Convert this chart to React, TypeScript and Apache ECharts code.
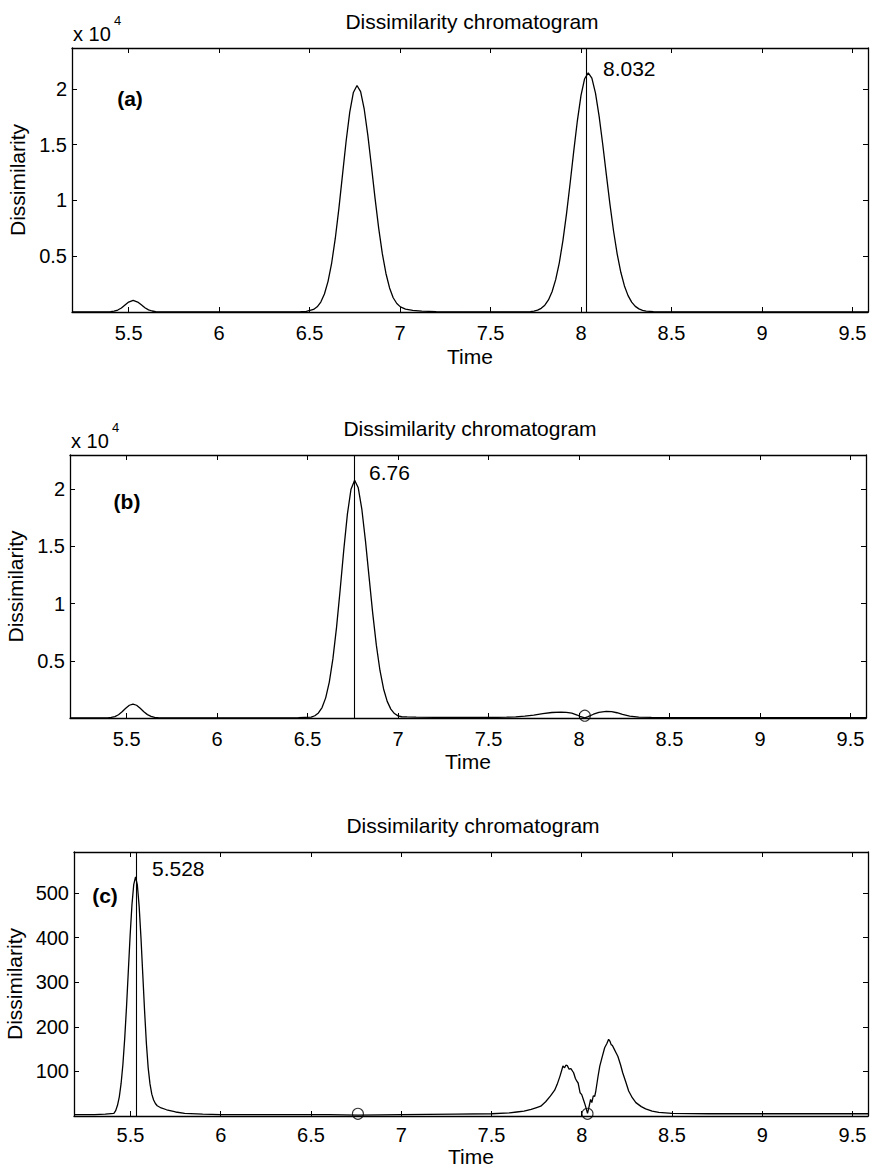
import React, { useEffect, useRef } from "react";
import * as echarts from "echarts";

const FONT = '"Liberation Sans", Arial, Helvetica, sans-serif';

const TIME_MIN = 5.187;
const TIME_MAX = 9.586;
const xTicks = [5.5, 6, 6.5, 7, 7.5, 8, 8.5, 9, 9.5];
const yTicksAB = [5000, 10000, 15000, 20000];
const yTicksC = [100, 200, 300, 400, 500];

// Panel (a)
const timeA = [
  5.19, 5.3, 5.38, 5.4, 5.42, 5.44, 5.46, 5.48, 5.5, 5.525, 5.55, 5.57, 5.59, 5.61, 5.63, 5.65, 5.68, 5.75,
  6.0, 6.3, 6.45, 6.482, 6.522, 6.542, 6.562, 6.582, 6.602, 6.622, 6.642, 6.662, 6.682, 6.702, 6.722, 6.742,
  6.762, 6.782, 6.802, 6.822, 6.842, 6.862, 6.882, 6.902, 6.922, 6.942, 6.962, 6.982, 7.002, 7.03, 7.07,
  7.12, 7.2, 7.35, 7.55, 7.65, 7.7, 7.72, 7.74, 7.76, 7.78, 7.8, 7.82, 7.84, 7.86, 7.88, 7.9, 7.92, 7.94,
  7.96, 7.98, 8.0, 8.02, 8.04, 8.06, 8.08, 8.1, 8.12, 8.14, 8.16, 8.18, 8.2, 8.22, 8.24, 8.26, 8.28, 8.3,
  8.32, 8.34, 8.36, 8.4, 8.5, 8.7, 9.0, 9.3, 9.586,
];
const dissA = [
  5, 5, 8, 25, 70, 175, 360, 630, 890, 1040, 895, 640, 380, 195, 90, 38, 12, 4,
  3, 5, 30, 45, 225, 463, 891, 1616, 2747, 4391, 6591, 9293, 12312, 15322, 17915, 19675,
  20300, 19746, 18172, 15824, 13037, 10162, 7495, 5229, 3453, 2156, 1275, 760, 460, 260, 140,
  70, 35, 15, 10, 15, 17, 39, 83, 169, 330, 613, 1080, 1813, 2900, 4412, 6390, 8810, 11559,
  14437, 17159, 19416, 20907, 21430, 20961, 19613, 17555, 15031, 12316, 9650, 7235, 5188, 3560, 2336, 1468, 881, 506,
  279, 147, 74, 40, 15, 8, 6, 5, 5,
];

// Panel (b)
const timeB = [
  5.19, 5.3, 5.395, 5.415, 5.435, 5.455, 5.475, 5.495, 5.515, 5.535, 5.555, 5.575, 5.595, 5.615, 5.635, 5.655, 5.675, 5.72,
  5.8, 6.0, 6.3, 6.45, 6.52, 6.54, 6.56, 6.58, 6.6, 6.62, 6.64, 6.66, 6.68, 6.7, 6.72, 6.74,
  6.76, 6.78, 6.8, 6.82, 6.84, 6.86, 6.88, 6.9, 6.92, 6.94, 6.96, 6.98, 7.0, 7.02, 7.05, 7.1, 7.2, 7.4, 7.55,
  7.6, 7.65, 7.7, 7.75, 7.8, 7.85, 7.9, 7.93, 7.96, 7.99, 8.01, 8.032, 8.05, 8.08, 8.11, 8.15, 8.18, 8.21, 8.24, 8.28, 8.33,
  8.4, 8.6, 9.0, 9.586,
];
const dissB = [
  5, 5, 15, 47, 127, 287, 540, 850, 1115, 1220, 1115, 850, 540, 295, 140, 60, 25, 8,
  5, 8, 15, 40, 80, 196, 439, 913, 1760, 3141, 5188, 7929, 11220, 14699, 17826, 20014,
  20800, 20128, 18237, 15473, 12293, 9146, 6371, 4156, 2538, 1452, 778, 389, 183, 110, 90, 70, 50, 50, 60,
  70, 100, 160, 260, 380, 480, 520, 500, 420, 260, 110, 20, 120, 330, 500, 580, 560, 460, 320, 170, 80,
  50, 40, 35, 30,
];

// Panel (c)
const timeC = [
  5.19, 5.3, 5.36, 5.408, 5.418, 5.428, 5.438, 5.448, 5.458, 5.468, 5.478, 5.488, 5.498, 5.508, 5.518, 5.528,
  5.538, 5.548, 5.558, 5.568, 5.578, 5.588, 5.598, 5.608, 5.618, 5.628, 5.638, 5.648, 5.67, 5.7, 5.75, 5.8, 5.9,
  6.0, 6.3, 6.6, 6.76, 7.0, 7.3, 7.5, 7.6, 7.64, 7.68, 7.72, 7.75, 7.773, 7.8, 7.827, 7.85, 7.864, 7.88, 7.896,
  7.905, 7.912, 7.92, 7.93, 7.94, 7.955, 7.965, 7.973, 7.98, 7.991, 8.0, 8.01, 8.018, 8.026, 8.032, 8.04, 8.049,
  8.056, 8.064, 8.072, 8.078, 8.09, 8.1, 8.113, 8.127, 8.14, 8.149, 8.156, 8.163, 8.17, 8.18, 8.19, 8.2, 8.215,
  8.227, 8.245, 8.26, 8.28, 8.3, 8.33, 8.354, 8.39, 8.427, 8.5, 8.7, 9.0, 9.3, 9.586,
];
const dissC = [
  3, 3, 4, 6, 12, 24, 43, 73, 116, 174, 245, 325, 405, 473, 519, 536,
  518, 470, 400, 318, 236, 163, 108, 72, 49, 36, 28, 23, 18, 14, 9, 6, 4,
  3, 3, 3, 2, 3, 4, 5, 7, 9, 11, 15, 19, 22, 32, 45, 58, 71, 90, 112,
  108, 114, 113, 105, 106, 97, 84, 78, 74, 52, 48, 36, 26, 15, 6, 20, 37,
  30, 45, 44, 56, 88, 112, 132, 153, 163, 172, 168, 160, 158, 150, 142, 134, 115,
  97, 75, 56, 41, 30, 21, 16, 11, 8, 6, 5, 5, 5, 5,
];

const peakA = 8.032;
const peakB = 6.76;
const peakC = 5.528;
const circlesB = [[8.032, 200]];
const circlesC = [[6.76, 5], [8.032, 5]];

const panelLabels = ["(a)", "(b)", "(c)"];
const peakLabels = ["8.032", "6.76", "5.528"];
const titleText = "Dissimilarity chromatogram";

const grids = [
  { left: 72, top: 48, width: 796, height: 264 },
  { left: 70, top: 455, width: 796, height: 263 },
  { left: 74, top: 852, width: 794, height: 264 },
];
const yMaxes = [23660, 23000, 592];
const timeNameGaps = [34, 33, 26];
const tickMargins = [11, 11, 9];

const BLACK = "#000";
const lineStyle = { color: BLACK, width: 1.3 };

function pairs(t: number[], v: number[]) {
  return t.map((x, i) => [x, v[i]]);
}

export default function App() {
  const ref = useRef<HTMLDivElement>(null);
  useEffect(() => {
    const chart = echarts.init(ref.current!, null, { renderer: "svg" });
    const xAxes: any[] = [];
    const yAxes: any[] = [];
    grids.forEach((g, i) => {
      xAxes.push({
        type: "value",
        gridIndex: i,
        min: TIME_MIN,
        max: TIME_MAX,
        position: "bottom",
        axisLine: { show: true, onZero: false, lineStyle },
        axisTick: { show: true, inside: true, length: 5, customValues: xTicks, lineStyle: { color: BLACK, width: 1 } },
        axisLabel: {
          customValues: xTicks,
          color: BLACK,
          fontSize: 20,
          fontFamily: FONT,
          margin: tickMargins[i],
          formatter: (v: number) => String(v),
        },
        splitLine: { show: false },
        name: "Time",
        nameLocation: "middle",
        nameGap: timeNameGaps[i],
        nameTextStyle: { color: BLACK, fontSize: 21, fontFamily: FONT, lineHeight: 21 },
      });
      xAxes.push({
        type: "value",
        gridIndex: i,
        min: TIME_MIN,
        max: TIME_MAX,
        position: "top",
        axisLine: { show: true, onZero: false, lineStyle },
        axisTick: { show: true, inside: true, length: 5, customValues: xTicks, lineStyle: { color: BLACK, width: 1 } },
        axisLabel: { show: false },
        splitLine: { show: false },
      });
      const yt = i < 2 ? yTicksAB : yTicksC;
      yAxes.push({
        type: "value",
        gridIndex: i,
        min: 0,
        max: yMaxes[i],
        position: "left",
        axisLine: { show: true, onZero: false, lineStyle },
        axisTick: { show: true, inside: true, length: 5, customValues: yt, lineStyle: { color: BLACK, width: 1 } },
        axisLabel: {
          customValues: yt,
          color: BLACK,
          fontSize: 20,
          fontFamily: FONT,
          margin: 5,
          formatter: (v: number) => (i < 2 ? String(v / 10000) : String(v)),
        },
        splitLine: { show: false },
        name: "Dissimilarity",
        nameLocation: "middle",
        nameRotate: 90,
        nameGap: i < 2 ? 37 : 42,
        nameTextStyle: { color: BLACK, fontSize: 21, fontFamily: FONT },
      });
      yAxes.push({
        type: "value",
        gridIndex: i,
        min: 0,
        max: yMaxes[i],
        position: "right",
        axisLine: { show: true, onZero: false, lineStyle },
        axisTick: { show: true, inside: true, length: 5, customValues: yt, lineStyle: { color: BLACK, width: 1 } },
        axisLabel: { show: false },
        splitLine: { show: false },
      });
    });

    const datasets = [pairs(timeA, dissA), pairs(timeB, dissB), pairs(timeC, dissC)];
    const peaks = [peakA, peakB, peakC];
    const series: any[] = datasets.map((d, i) => ({
      type: "line",
      xAxisIndex: i * 2,
      yAxisIndex: i * 2,
      data: d,
      symbol: "none",
      showSymbol: false,
      lineStyle,
      markLine: {
        silent: true,
        symbol: ["none", "none"],
        label: { show: false },
        lineStyle: { color: BLACK, width: 1.1, type: "solid" },
        data: [{ xAxis: peaks[i] }],
      },
    }));
    [[1, circlesB], [2, circlesC]].forEach(([i, pts]: any) => {
      series.push({
        type: "scatter",
        xAxisIndex: i * 2,
        yAxisIndex: i * 2,
        data: pts,
        symbol: "circle",
        symbolSize: 11,
        clip: false,
        itemStyle: { color: "transparent", borderColor: BLACK, borderWidth: 1.1 },
      });
    });

    const graphics: any[] = [];
    const labelPos = [
      [130, 98],
      [127, 501],
      [105, 895],
    ];
    const peakLabelPos = [
      [603, 68],
      [369, 472],
      [152, 868],
    ];
    grids.forEach((g, i) => {
      graphics.push({
        type: "text",
        x: g.left + g.width / 2 + 2,
        y: g.top - 27,
        style: { text: titleText, fontSize: 21, fontFamily: FONT, fill: BLACK, align: "center", verticalAlign: "middle" },
      });
      graphics.push({
        type: "text",
        x: labelPos[i][0],
        y: labelPos[i][1],
        style: { text: panelLabels[i], fontSize: 21, fontWeight: "bold", fontFamily: FONT, fill: BLACK, align: "center", verticalAlign: "middle" },
      });
      graphics.push({
        type: "text",
        x: peakLabelPos[i][0],
        y: peakLabelPos[i][1],
        style: { text: peakLabels[i], fontSize: 21, fontFamily: FONT, fill: BLACK, align: "left", verticalAlign: "middle" },
      });
      if (i < 2) {
        graphics.push({
          type: "text",
          x: g.left + 1,
          y: g.top - 14,
          style: { text: "x 10", fontSize: 20, fontFamily: FONT, fill: BLACK, align: "left", verticalAlign: "middle" },
        });
        graphics.push({
          type: "text",
          x: g.left + 42,
          y: g.top - 28,
          style: { text: "4", fontSize: 13, fontFamily: FONT, fill: BLACK, align: "left", verticalAlign: "middle" },
        });
      }
    });

    chart.setOption({
      animation: false,
      backgroundColor: "#fff",
      grid: grids.map((g) => ({ ...g, containLabel: false, outerBoundsMode: "none" })),
      xAxis: xAxes,
      yAxis: yAxes,
      series,
      graphic: graphics,
    });
    return () => chart.dispose();
  }, []);
  return (
    <div
      ref={ref}
      style={{ position: "absolute", left: 0, top: 0, width: 871, height: 1168, background: "#fff" }}
    />
  );
}
